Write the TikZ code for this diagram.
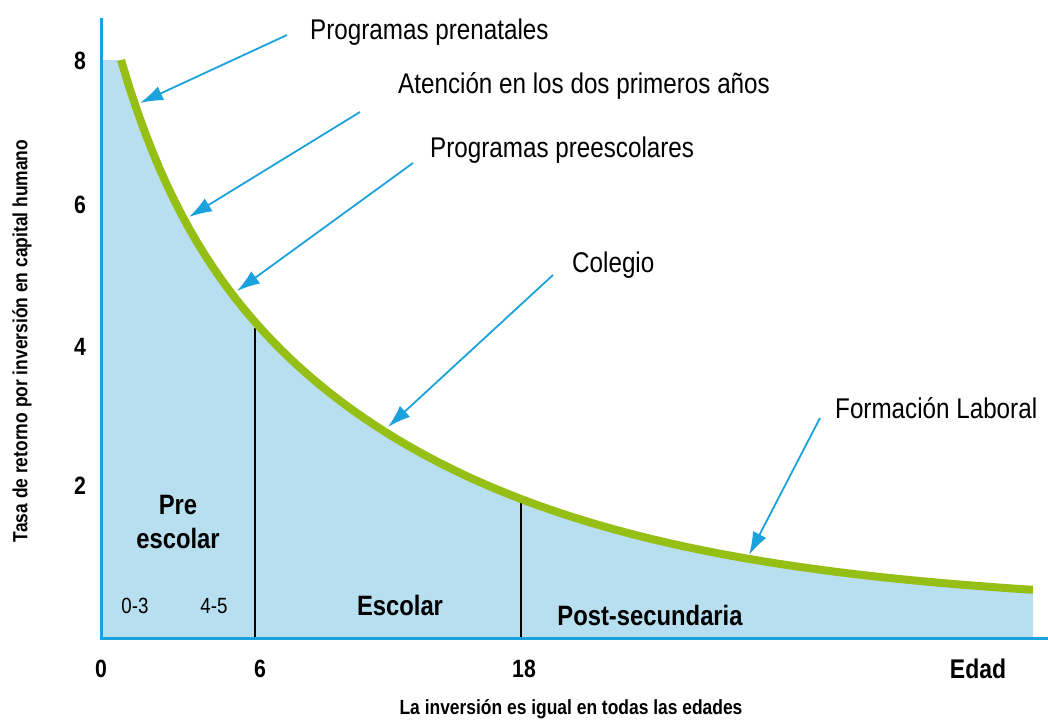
\documentclass[tikz,border=0pt]{standalone}
\usepackage{fontspec}
\setmainfont{Liberation Sans}[FakeStretch=0.85]
\usepackage{tikz}
\usetikzlibrary{arrows.meta}
\definecolor{areablue}{HTML}{B7DFEF}
\definecolor{curvegreen}{HTML}{96BF16}
\definecolor{axisblue}{HTML}{1BA1DB}

\begin{document}
\begin{tikzpicture}[x=1pt, y=-1pt,
        declare function={ret(\t)=638-30-440.7*exp(-0.0035*(\t-121))-107.3*exp(-0.0177*(\t-121));},
        pointer/.style={axisblue, line width=1.8pt, -{Latex[length=23pt,width=15pt]}},
        note/.style={anchor=west, inner sep=0pt, font=\fontsize{28.5}{33}\selectfont},
        stage/.style={inner sep=0pt, align=center, font=\bfseries\fontsize{28}{34}\selectfont},
        agegroup/.style={inner sep=0pt, font=\fontsize{22}{26}\selectfont},
        tick/.style={inner sep=0pt, font=\bfseries\fontsize{25}{28}\selectfont},
        axistitle/.style={inner sep=0pt, font=\bfseries\fontsize{20.5}{24}\selectfont}]
                                \useasboundingbox (0,0) rectangle (1048,720);

                                % area under the curve
                                \fill[areablue] (101,60) -- plot[domain=121:1033, samples=120] (\x, {ret(\x)}) -- (1033,638) -- (101,638) -- cycle;

                                % stage separators
                                \draw[line width=1.4pt] (255,328) -- (255,638);
                                \draw[line width=1.4pt] (521,502) -- (521,638);

                                % return curve
                                \draw[curvegreen, line width=8pt] plot[domain=121:1033, samples=120] (\x, {ret(\x)});

                                % axes
                                \draw[axisblue, line width=3pt] (101,18) -- (101,638) -- (1048,638);

                                \node[tick] (y8) at (80,61) {8};
                                \node[tick] (y6) at (80,205) {6};
                                \node[tick] (y4) at (80,347) {4};
                                \node[tick] (y2) at (80,486) {2};
                                \node[tick] (x0) at (101,669) {0};
                                \node[tick] (x6) at (260,669) {6};
                                \node[tick] (x18) at (524,669) {18};
                                \node[tick, font=\bfseries\fontsize{27}{30}\selectfont] (edad) at (978,669) {Edad};

                                \node[axistitle, rotate=90] (ytitle) at (22,341) {Tasa de retorno por inversión en capital humano};
                                \node[axistitle] (xtitle) at (571,709) {La inversión es igual en todas las edades};

                                % stages
                                \node[stage] (pre) at (178,522) {Pre\\escolar};
                                \node[agegroup] (age03) at (135,606) {0-3};
                                \node[agegroup] (age45) at (214,606) {4-5};
                                \node[stage] (escolar) at (400,605) {Escolar};
                                \node[stage] (post) at (650,615) {Post-secundaria};

                                % programmes
                                \node[note] (pren) at (310,32) {Programas prenatales};
                                \node[note] (aten) at (398,86) {Atención en los dos primeros años};
                                \node[note] (presc) at (430,150) {Programas preescolares};
                                \node[note] (coleg) at (572,265) {Colegio};
                                \node[note] (formac) at (835,408) {Formación Laboral};

                                \coordinate (prenTail) at (287,35);
                                \coordinate (atenTail) at (360,112);
                                \coordinate (prescTail) at (413,163);
                                \coordinate (colegTail) at (553,275);
                                \coordinate (formacTail) at (820,418);
                                \coordinate (prenTip) at (140,103);
                                \coordinate (atenTip) at (189,217);
                                \coordinate (prescTip) at (237,291);
                                \coordinate (colegTip) at (388,427);
                                \coordinate (formacTip) at (749,555);

                                \draw[pointer] (prenTail) -- (prenTip);
                                \draw[pointer] (atenTail) -- (atenTip);
                                \draw[pointer] (prescTail) -- (prescTip);
                                \draw[pointer] (colegTail) -- (colegTip);
                                \draw[pointer] (formacTail) -- (formacTip);
\end{tikzpicture}
\end{document}
